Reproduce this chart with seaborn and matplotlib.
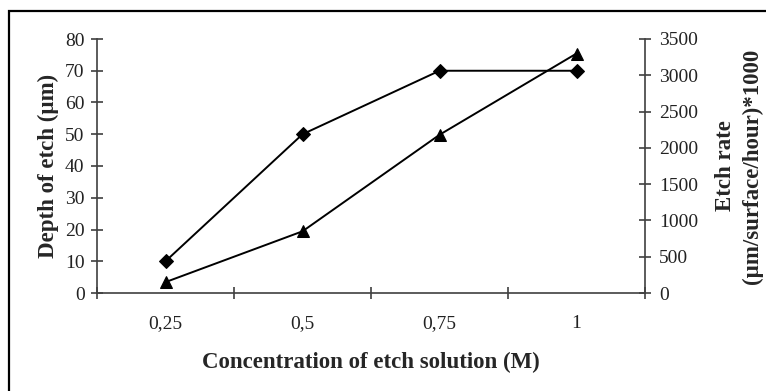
import matplotlib
matplotlib.use("Agg")
import matplotlib.pyplot as plt
import matplotlib.patches as mpatches
import seaborn as sns
import pandas as pd

concentrations = ["0,25", "0,5", "0,75", "1"]
depth_um = [10, 50, 70, 70]
etch_rate = [150, 850, 2180, 3300]

sns.set_theme(style="white")
plt.rcParams["font.family"] = ["Liberation Serif", "DejaVu Serif"]

df = pd.DataFrame({"conc": concentrations, "depth": depth_um, "rate": etch_rate})

fig = plt.figure(figsize=(7.66, 3.91), dpi=100)
ax = fig.add_axes([97 / 766, 1 - 293 / 391, (645 - 97) / 766, (293 - 39) / 391])
ax2 = ax.twinx()

pos = list(range(len(concentrations)))
sns.lineplot(x=pos, y=df["depth"], ax=ax, color="black", marker="D",
             markersize=7, linewidth=1.4, markeredgecolor="black")
sns.lineplot(x=pos, y=df["rate"], ax=ax2, color="black", marker="^",
             markersize=9, linewidth=1.4, markeredgecolor="black")

ax.set_xlim(-0.5, 3.5)
ax.set_ylim(0, 80)
ax2.set_ylim(0, 3500)
ax.set_yticks(range(0, 81, 10))
ax2.set_yticks(range(0, 3501, 500))

# category boundaries carry tick marks, centres carry labels
ax.set_xticks([-0.5, 0.5, 1.5, 2.5, 3.5])
ax.set_xticklabels([])
ax.set_xticks(pos, minor=True)
ax.set_xticklabels(concentrations, minor=True)
ax.tick_params(axis="x", which="minor", length=0, pad=16, labelsize=14)

spine_col = "#404040"
for a in (ax, ax2):
    for s in a.spines.values():
        s.set_visible(False)
ax.spines["left"].set_visible(True)
ax.spines["bottom"].set_visible(True)
ax2.spines["right"].set_visible(True)
for s in (ax.spines["left"], ax.spines["bottom"], ax2.spines["right"]):
    s.set_color(spine_col)
    s.set_linewidth(1.2)

ax.tick_params(axis="x", which="major", direction="inout", length=8,
               width=1.2, color=spine_col, bottom=True)
ax.tick_params(axis="y", direction="inout", length=8, width=1.2,
               color=spine_col, labelsize=14, pad=5, left=True)
ax2.tick_params(axis="y", direction="inout", length=8, width=1.2,
                color=spine_col, labelsize=14, pad=6, right=True)
for lab in ax.get_yticklabels() + ax2.get_yticklabels() + ax.get_xticklabels(minor=True):
    lab.set_color("#222222")

ax.set_xlabel("Concentration of etch solution (M)", fontsize=16.5,
              fontweight="bold", labelpad=14)
ax.set_ylabel("Depth of etch (µm)", fontsize=16.5, fontweight="bold", labelpad=4)
ax2.set_ylabel("Etch rate\n(µm/surface/hour)*1000", fontsize=16.5,
               fontweight="bold", labelpad=12, linespacing=1.4)
ax.grid(False)
ax2.grid(False)

# outer frame around the chart
fig.patches.append(mpatches.Rectangle((9 / 766, -0.1), 1.2, 1 - 11 / 391 + 0.1,
                                      transform=fig.transFigure, fill=False,
                                      edgecolor="black", linewidth=1.6))

fig.savefig("out.png", dpi=100)
